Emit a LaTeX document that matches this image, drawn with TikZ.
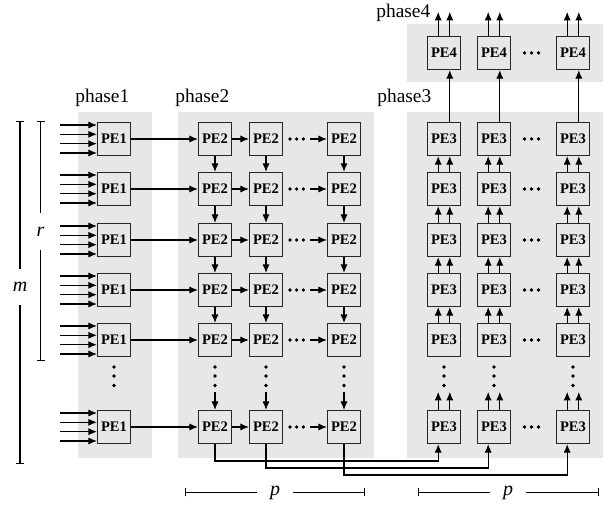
\documentclass[tikz,border=0pt]{standalone}
\usepackage{fontspec}
\setmainfont{Liberation Serif}
\usetikzlibrary{arrows.meta}
\definecolor{phasegray}{RGB}{230,231,233}
\tikzset{
  pe/.style={draw=black!85, line width=0.6pt, minimum size=16.5pt, inner sep=0pt,
    font=\fontsize{7.3}{8}\selectfont\bfseries},
  arr/.style={line width=0.55pt, -{Latex[length=4.3pt,width=3.6pt]}},
  phaselbl/.style={anchor=west, inner sep=0pt, font=\fontsize{9.7}{11}\selectfont},
  dimlbl/.style={inner sep=0pt, minimum width=18pt, minimum height=18pt,
    font=\fontsize{10}{12}\selectfont\itshape},
  dimline/.style={line width=0.55pt}
}
\begin{document}
\begin{tikzpicture}[x=0.5pt,y=-0.5pt]
  \useasboundingbox (0,0) rectangle (610,506);
  % phase areas
  \fill[phasegray] (78,112) rectangle (152,458);
  \fill[phasegray] (178,112) rectangle (374,458);
  \fill[phasegray] (407,112) rectangle (603,458);
  \fill[phasegray] (407,24) rectangle (603,82);

  \node[phaselbl] (ph1) at (75,98) {phase1};
  \node[phaselbl] (ph2) at (175,98) {phase2};
  \node[phaselbl] (ph3) at (377,98) {phase3};
  \node[phaselbl] (ph4) at (376,13) {phase4};

  % processing elements
  \foreach \r/\y in {1/139,2/189,3/240,4/290,5/340,6/427} {
    \node[pe] (a\r) at (114,\y) {PE1};
    \foreach \c/\x in {1/215,2/266,3/344}
      \node[pe] (b\r\c) at (\x,\y) {PE2};
    \foreach \c/\x in {1/444,2/494,3/573}
      \node[pe] (c\r\c) at (\x,\y) {PE3};
  }
  \foreach \c/\x in {1/444,2/494,3/573}
    \node[pe] (d\c) at (\x,53) {PE4};

  % inputs and row links
  \foreach \r/\y in {1/139,2/189,3/240,4/290,5/340,6/427} {
    \foreach \dy in {-7,-2.35,2.35,7}
      \draw[arr] ([xshift=-18.5pt,yshift=\dy pt]a\r.west) -- ([yshift=\dy pt]a\r.west);
    \draw[arr] (a\r) -- (b\r1);
    \draw[arr] (b\r1) -- (b\r2);
    \draw[arr] ([xshift=-8.5pt]b\r3.west) -- (b\r3.west);
    \foreach \x in {290,296.7,303.3}
      \filldraw[black] (\x,\y) circle (0.6pt);
    \foreach \x in {524.5,531.5,538.5}
      \filldraw[black] (\x,\y) circle (0.6pt);
  }
  \foreach \x in {524.5,531.5,538.5}
    \filldraw[black] (\x,53) circle (0.6pt);

  % column links
  \foreach \c in {1,2,3} {
    \foreach \r/\s in {1/2,2/3,3/4,4/5} {
      \draw[arr] (b\r\c) -- (b\s\c);
      \draw[arr] ([xshift=-2.9pt]c\s\c.north) -- ([xshift=-2.9pt]c\r\c.south);
      \draw[arr] ([xshift=2.9pt]c\s\c.north) -- ([xshift=2.9pt]c\r\c.south);
    }
    \draw[arr] ([yshift=9pt]b6\c.north) -- (b6\c.north);
    \draw[arr] ([xshift=-2.9pt]c6\c.north) -- ([xshift=-2.9pt,yshift=9pt]c6\c.north);
    \draw[arr] ([xshift=2.9pt]c6\c.north) -- ([xshift=2.9pt,yshift=9pt]c6\c.north);
    \draw[arr] ([xshift=2.9pt]c1\c.north) -- ([xshift=2.9pt]d\c.south);
    \draw[arr] ([xshift=-2.9pt]d\c.north) -- ([xshift=-2.9pt,yshift=12pt]d\c.north);
    \draw[arr] ([xshift=2.9pt]d\c.north) -- ([xshift=2.9pt,yshift=12pt]d\c.north);
  }
  \foreach \x in {114,215,266,344,444,494,573}
    \foreach \y in {367,376,385.5}
      \filldraw[black] (\x,\y) circle (0.6pt);

  % phase 2 to phase 3
  \draw[arr] (b61.south) -- (b61.south |- 0,461) -| ([xshift=-2.9pt]c61.south);
  \draw[arr] (b62.south) -- (b62.south |- 0,468) -| ([xshift=-2.9pt]c62.south);
  \draw[arr] (b63.south) -- (b63.south |- 0,475) -| ([xshift=-2.9pt]c63.south);

  % dimensions
  \coordinate (mtop) at (20,121);
  \coordinate (mbot) at (20,464);
  \node[dimlbl] (mlab) at (20,287) {m};
  \draw[dimline, {Bar[width=4pt]}-] (mtop) -- (mlab);
  \draw[dimline, -{Bar[width=4pt]}] (mlab) -- (mbot);

  \coordinate (rtop) at (40.5,121);
  \coordinate (rbot) at (40.5,361);
  \node[dimlbl] (rlab) at (40.5,231.5) {r};
  \draw[dimline, {Bar[width=4pt]}-] (rtop) -- (rlab);
  \draw[dimline, -{Bar[width=4pt]}] (rlab) -- (rbot);

  \coordinate (pl1) at (184.5,492.5);
  \coordinate (pl2) at (365,492.5);
  \node[dimlbl] (plab1) at (275,492.5) {p};
  \draw[dimline, {Bar[width=4pt]}-] (pl1) -- (plab1);
  \draw[dimline, -{Bar[width=4pt]}] (plab1) -- (pl2);

  \coordinate (pr1) at (418,492.5);
  \coordinate (pr2) at (599,492.5);
  \node[dimlbl] (plab2) at (508,492.5) {p};
  \draw[dimline, {Bar[width=4pt]}-] (pr1) -- (plab2);
  \draw[dimline, -{Bar[width=4pt]}] (plab2) -- (pr2);
\end{tikzpicture}
\end{document}
